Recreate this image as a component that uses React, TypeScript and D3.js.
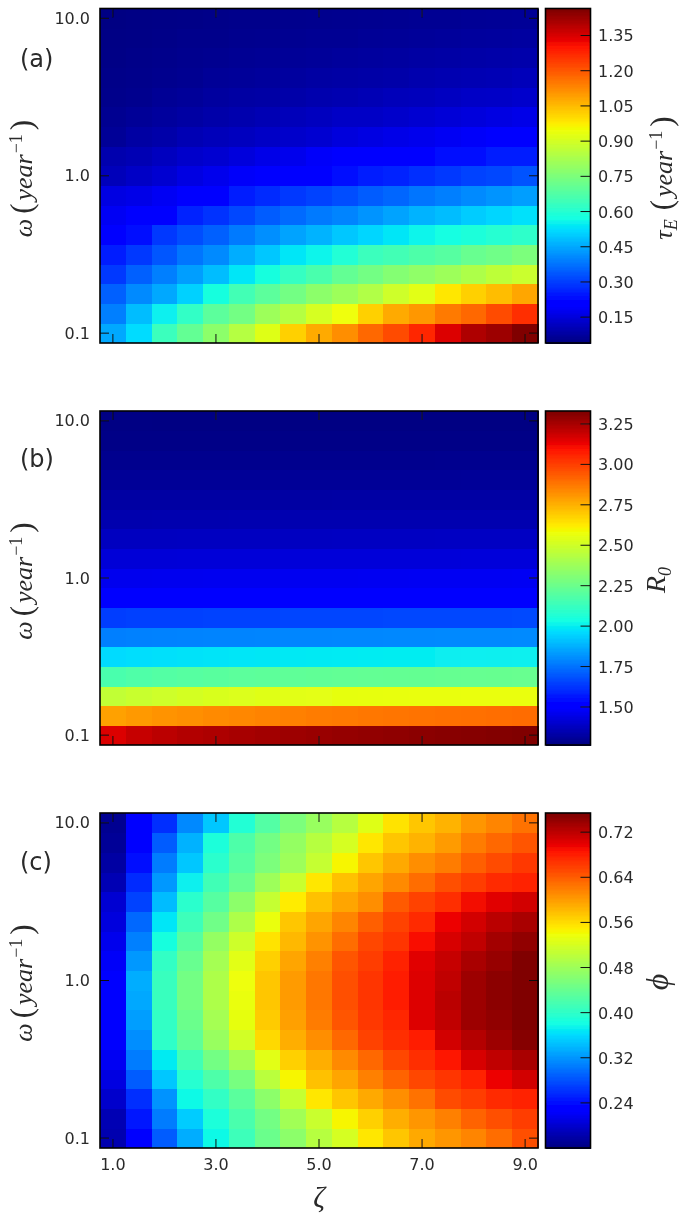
import * as d3 from "d3";

// parameter grid, both axes have 17 cells
const zetaValues = [1, 1.5, 2, 2.5, 3, 3.5, 4, 4.5, 5, 5.5, 6, 6.5, 7, 7.5, 8, 8.5, 9];
const omegaValues = [0.1, 0.133, 0.178, 0.237, 0.316, 0.422, 0.562, 0.75, 1, 1.334, 1.778, 2.371, 3.162, 4.217, 5.623, 7.499, 10];

const zetaTicks = [1, 3, 5, 7, 9];
const omegaTicks = [0.1, 1, 10];

// rows run from omega = 0.1 up to omega = 10
const tauValues = [
	[0.453, 0.525, 0.639, 0.71, 0.781, 0.852, 0.924, 1.023, 1.08, 1.123, 1.18, 1.223, 1.28, 1.351, 1.408, 1.429, 1.465],
	[0.396, 0.482, 0.553, 0.624, 0.696, 0.738, 0.81, 0.852, 0.909, 0.952, 1.023, 1.08, 1.109, 1.152, 1.18, 1.223, 1.266],
	[0.354, 0.411, 0.453, 0.51, 0.582, 0.653, 0.696, 0.738, 0.781, 0.81, 0.845, 0.895, 0.931, 0.988, 1.023, 1.052, 1.087],
	[0.297, 0.354, 0.396, 0.439, 0.482, 0.539, 0.582, 0.631, 0.667, 0.71, 0.738, 0.767, 0.788, 0.81, 0.838, 0.867, 0.888],
	[0.254, 0.297, 0.339, 0.382, 0.411, 0.46, 0.496, 0.539, 0.56, 0.596, 0.639, 0.653, 0.674, 0.688, 0.717, 0.731, 0.753],
	[0.218, 0.24, 0.297, 0.325, 0.354, 0.389, 0.418, 0.446, 0.468, 0.496, 0.517, 0.539, 0.56, 0.574, 0.589, 0.603, 0.617],
	[0.183, 0.211, 0.218, 0.268, 0.289, 0.318, 0.346, 0.368, 0.389, 0.403, 0.425, 0.446, 0.468, 0.482, 0.503, 0.517, 0.532],
	[0.161, 0.168, 0.183, 0.218, 0.225, 0.254, 0.275, 0.297, 0.311, 0.325, 0.346, 0.361, 0.382, 0.396, 0.411, 0.425, 0.439],
	[0.111, 0.126, 0.14, 0.161, 0.175, 0.19, 0.204, 0.218, 0.225, 0.24, 0.254, 0.268, 0.282, 0.297, 0.311, 0.318, 0.332],
	[0.097, 0.104, 0.118, 0.133, 0.14, 0.154, 0.168, 0.175, 0.19, 0.197, 0.211, 0.218, 0.225, 0.232, 0.24, 0.254, 0.261],
	[0.069, 0.083, 0.09, 0.104, 0.111, 0.118, 0.126, 0.133, 0.14, 0.154, 0.161, 0.168, 0.175, 0.183, 0.19, 0.204, 0.211],
	[0.061, 0.069, 0.076, 0.083, 0.09, 0.097, 0.104, 0.111, 0.118, 0.126, 0.126, 0.133, 0.14, 0.147, 0.154, 0.161, 0.168],
	[0.054, 0.057, 0.066, 0.071, 0.078, 0.083, 0.086, 0.091, 0.097, 0.1, 0.106, 0.111, 0.114, 0.12, 0.126, 0.128, 0.134],
	[0.051, 0.054, 0.057, 0.061, 0.069, 0.071, 0.074, 0.078, 0.083, 0.086, 0.088, 0.091, 0.097, 0.1, 0.103, 0.106, 0.111],
	[0.047, 0.051, 0.054, 0.057, 0.06, 0.063, 0.066, 0.069, 0.071, 0.074, 0.077, 0.08, 0.083, 0.086, 0.088, 0.09, 0.093],
	[0.046, 0.047, 0.05, 0.053, 0.054, 0.057, 0.059, 0.061, 0.063, 0.064, 0.067, 0.069, 0.071, 0.073, 0.076, 0.077, 0.08],
	[0.044, 0.046, 0.047, 0.049, 0.051, 0.053, 0.054, 0.056, 0.057, 0.059, 0.06, 0.061, 0.063, 0.064, 0.066, 0.067, 0.069],
];

const r0Values = [
	[3.165, 3.205, 3.225, 3.24, 3.25, 3.26, 3.27, 3.278, 3.285, 3.292, 3.298, 3.304, 3.31, 3.315, 3.32, 3.325, 3.33],
	[2.793, 2.81, 2.822, 2.832, 2.842, 2.85, 2.858, 2.865, 2.872, 2.878, 2.884, 2.888, 2.892, 2.896, 2.9, 2.904, 2.907],
	[2.473, 2.49, 2.505, 2.518, 2.53, 2.54, 2.548, 2.555, 2.56, 2.565, 2.568, 2.57, 2.572, 2.573, 2.574, 2.575, 2.576],
	[2.174, 2.185, 2.195, 2.203, 2.21, 2.216, 2.221, 2.226, 2.23, 2.233, 2.236, 2.238, 2.24, 2.242, 2.243, 2.245, 2.246],
	[1.967, 1.972, 1.977, 1.981, 1.985, 1.988, 1.991, 1.994, 1.996, 1.998, 2.0, 2.002, 2.003, 2.005, 2.006, 2.007, 2.008],
	[1.781, 1.784, 1.786, 1.788, 1.79, 1.791, 1.793, 1.794, 1.795, 1.796, 1.797, 1.798, 1.799, 1.8, 1.8, 1.801, 1.802],
	[1.647, 1.65, 1.652, 1.654, 1.656, 1.657, 1.659, 1.66, 1.661, 1.662, 1.663, 1.664, 1.665, 1.666, 1.666, 1.667, 1.668],
	[1.505, 1.508, 1.51, 1.512, 1.513, 1.514, 1.515, 1.516, 1.517, 1.518, 1.519, 1.52, 1.521, 1.522, 1.523, 1.524, 1.525],
	[1.461, 1.462, 1.463, 1.464, 1.465, 1.466, 1.466, 1.467, 1.468, 1.468, 1.469, 1.469, 1.47, 1.47, 1.471, 1.471, 1.472],
	[1.42, 1.421, 1.421, 1.422, 1.422, 1.423, 1.423, 1.424, 1.424, 1.424, 1.425, 1.425, 1.425, 1.425, 1.426, 1.426, 1.426],
	[1.379, 1.38, 1.38, 1.381, 1.381, 1.381, 1.382, 1.382, 1.382, 1.383, 1.383, 1.383, 1.383, 1.384, 1.384, 1.384, 1.384],
	[1.348, 1.348, 1.349, 1.349, 1.349, 1.35, 1.35, 1.35, 1.35, 1.35, 1.351, 1.351, 1.351, 1.351, 1.351, 1.351, 1.351],
	[1.327, 1.327, 1.327, 1.328, 1.328, 1.328, 1.328, 1.328, 1.328, 1.329, 1.329, 1.329, 1.329, 1.329, 1.329, 1.329, 1.329],
	[1.306, 1.306, 1.306, 1.306, 1.307, 1.307, 1.307, 1.307, 1.307, 1.307, 1.307, 1.307, 1.307, 1.307, 1.308, 1.308, 1.308],
	[1.29, 1.29, 1.29, 1.29, 1.29, 1.29, 1.29, 1.29, 1.29, 1.29, 1.29, 1.29, 1.29, 1.291, 1.291, 1.291, 1.291],
	[1.277, 1.277, 1.277, 1.277, 1.277, 1.277, 1.277, 1.277, 1.277, 1.277, 1.277, 1.277, 1.277, 1.277, 1.277, 1.277, 1.277],
	[1.272, 1.272, 1.271, 1.271, 1.271, 1.271, 1.271, 1.27, 1.27, 1.27, 1.27, 1.27, 1.27, 1.27, 1.27, 1.27, 1.27],
];

const phiValues = [
	[0.184, 0.231, 0.288, 0.335, 0.38, 0.412, 0.445, 0.469, 0.499, 0.522, 0.555, 0.576, 0.594, 0.606, 0.617, 0.632, 0.65],
	[0.187, 0.246, 0.306, 0.353, 0.389, 0.421, 0.451, 0.484, 0.513, 0.546, 0.57, 0.591, 0.606, 0.62, 0.638, 0.65, 0.662],
	[0.199, 0.261, 0.32, 0.38, 0.404, 0.433, 0.469, 0.51, 0.555, 0.576, 0.594, 0.611, 0.629, 0.653, 0.662, 0.674, 0.68],
	[0.21, 0.288, 0.35, 0.395, 0.424, 0.454, 0.502, 0.546, 0.579, 0.597, 0.62, 0.638, 0.656, 0.668, 0.68, 0.698, 0.712],
	[0.219, 0.306, 0.371, 0.415, 0.451, 0.484, 0.531, 0.57, 0.591, 0.614, 0.635, 0.656, 0.671, 0.689, 0.709, 0.721, 0.733],
	[0.225, 0.317, 0.401, 0.436, 0.478, 0.519, 0.564, 0.591, 0.611, 0.635, 0.659, 0.671, 0.683, 0.712, 0.727, 0.739, 0.751],
	[0.228, 0.326, 0.404, 0.445, 0.487, 0.534, 0.573, 0.6, 0.623, 0.647, 0.665, 0.677, 0.706, 0.721, 0.739, 0.745, 0.754],
	[0.231, 0.332, 0.409, 0.451, 0.493, 0.537, 0.576, 0.603, 0.626, 0.65, 0.668, 0.683, 0.706, 0.724, 0.739, 0.748, 0.754],
	[0.228, 0.335, 0.409, 0.451, 0.493, 0.54, 0.576, 0.603, 0.626, 0.65, 0.668, 0.683, 0.706, 0.721, 0.739, 0.748, 0.754],
	[0.222, 0.323, 0.404, 0.442, 0.487, 0.531, 0.57, 0.597, 0.62, 0.647, 0.662, 0.68, 0.704, 0.718, 0.733, 0.742, 0.754],
	[0.216, 0.309, 0.386, 0.43, 0.475, 0.516, 0.558, 0.585, 0.608, 0.632, 0.656, 0.668, 0.692, 0.709, 0.721, 0.736, 0.745],
	[0.208, 0.294, 0.368, 0.412, 0.448, 0.493, 0.537, 0.576, 0.597, 0.617, 0.641, 0.659, 0.674, 0.698, 0.712, 0.724, 0.733],
	[0.202, 0.273, 0.344, 0.398, 0.43, 0.469, 0.51, 0.552, 0.579, 0.597, 0.611, 0.644, 0.659, 0.671, 0.695, 0.704, 0.712],
	[0.187, 0.258, 0.323, 0.374, 0.415, 0.442, 0.481, 0.513, 0.555, 0.579, 0.597, 0.614, 0.632, 0.65, 0.662, 0.674, 0.68],
	[0.178, 0.24, 0.306, 0.35, 0.398, 0.43, 0.457, 0.481, 0.51, 0.546, 0.576, 0.594, 0.611, 0.623, 0.641, 0.653, 0.665],
	[0.172, 0.234, 0.288, 0.338, 0.389, 0.424, 0.451, 0.475, 0.499, 0.522, 0.555, 0.576, 0.588, 0.603, 0.623, 0.635, 0.647],
	[0.169, 0.231, 0.261, 0.314, 0.35, 0.392, 0.427, 0.457, 0.478, 0.499, 0.528, 0.558, 0.576, 0.588, 0.606, 0.617, 0.629],
];

const tauTicks = [0.15, 0.3, 0.45, 0.6, 0.75, 0.9, 1.05, 1.2, 1.35];
const r0Ticks = [1.5, 1.75, 2, 2.25, 2.5, 2.75, 3, 3.25];
const phiTicks = [0.24, 0.32, 0.4, 0.48, 0.56, 0.64, 0.72];

const tauRange = [0.04, 1.465];
const r0Range = [1.265, 3.33];
const phiRange = [0.16, 0.754];

// jet colormap
const jetRed = d3.scaleLinear().domain([0, 0.35, 0.66, 0.89, 1]).range([0, 0, 255, 255, 128]);
const jetGreen = d3.scaleLinear().domain([0, 0.125, 0.375, 0.64, 0.91, 1]).range([0, 0, 255, 255, 0, 0]);
const jetBlue = d3.scaleLinear().domain([0, 0.11, 0.34, 0.65, 1]).range([128, 255, 255, 0, 0]);
const jet = (t: number) => d3.rgb(jetRed(t), jetGreen(t), jetBlue(t)).formatRgb();

const left = 100;
const right = 538;
const barLeft = 545.5;
const barRight = 590.5;
const sans = "'DejaVu Sans', sans-serif";
const serif = "'Liberation Serif', serif";
const textColor = "#2a2a2a";

const xScale = d3.scaleLinear().domain([0.75, 9.25]).range([left, right]);

function YearUnit(props: any) {
	return (
		<>
			<tspan fontStyle="normal" dx={props.gap} fontSize="31">(</tspan>
			<tspan dx="3">year</tspan>
			<tspan dy="-10" dx="1" fontSize="18" fontStyle="normal">−1</tspan>
			<tspan dy="10" dx="4" fontStyle="normal" fontSize="31">)</tspan>
		</>
	);
}

function Panel(props: any) {
	const { top, bottom, values, range, ticks, tickFormat, tag, tagY, showX, barLabel, barLabelX, barLabelY, barLabelSize } = props;
	const yScale = d3
		.scaleLog()
		.domain([0.1 / Math.pow(10, 0.0625), 10 * Math.pow(10, 0.0625)])
		.range([bottom, top]);
	const colorT = d3.scaleLinear().domain(range).range([0, 1]);
	const barScale = d3.scaleLinear().domain(range).range([bottom, top]);
	const cellW = xScale(zetaValues[1]) - xScale(zetaValues[0]);
	const cellH = yScale(omegaValues[0]) - yScale(omegaValues[1]);
	const barSteps = d3.range(0, 256).map((i) => i / 255);
	const barStepH = (bottom - top) / 256;
	const stroke = "#111";

	return (
		<g>
			<g shapeRendering="crispEdges">
				{omegaValues.map((omega, r) =>
					zetaValues.map((zeta, c) => (
						<rect
							key={r + "-" + c}
							x={xScale(zeta) - cellW / 2}
							y={yScale(omega) - cellH / 2}
							width={cellW + 0.5}
							height={cellH + 0.5}
							fill={jet(colorT(values[r][c]))}
						/>
					)),
				)}
				{barSteps.map((t) => (
					<rect
						key={t}
						x={barLeft}
						y={bottom - (t * 255 + 1) * barStepH}
						width={barRight - barLeft}
						height={barStepH + 1}
						fill={jet(t)}
					/>
				))}
			</g>
			{zetaTicks.map((t) => (
				<g key={t}>
					<line x1={xScale(t)} x2={xScale(t)} y1={bottom} y2={bottom - 9} stroke={stroke} strokeWidth={1} />
					<line x1={xScale(t)} x2={xScale(t)} y1={top} y2={top + 9} stroke={stroke} strokeWidth={1} />
					{showX && (
						<text x={xScale(t)} y={bottom + 22} textAnchor="middle" fontFamily={sans} fontSize={16} fill={textColor}>
							{t.toFixed(1)}
						</text>
					)}
				</g>
			))}
			{omegaTicks.map((t) => (
				<g key={t}>
					<line x1={left} x2={left + 9} y1={yScale(t)} y2={yScale(t)} stroke={stroke} strokeWidth={1} />
					<line x1={right} x2={right - 9} y1={yScale(t)} y2={yScale(t)} stroke={stroke} strokeWidth={1} />
					<text x={90} y={yScale(t) + 5.5} textAnchor="end" fontFamily={sans} fontSize={16} fill={textColor}>
						{t.toFixed(1)}
					</text>
				</g>
			))}
			<rect x={left} y={top} width={right - left} height={bottom - top} fill="none" stroke="#000" strokeWidth={1.6} />

			{ticks.map((t: number) => (
				<g key={t}>
					<line x1={barRight} x2={barRight - 10} y1={barScale(t)} y2={barScale(t)} stroke={stroke} strokeWidth={1} />
					<text x={598} y={barScale(t) + 6} fontFamily={sans} fontSize={16} fill={textColor}>
						{tickFormat(t)}
					</text>
				</g>
			))}
			<rect x={barLeft} y={top} width={barRight - barLeft} height={bottom - top} fill="none" stroke="#000" strokeWidth={1.6} />

			<text x={20} y={tagY} fontFamily={sans} fontSize={24} fill={textColor}>
				{tag}
			</text>
			<text
				transform={`translate(32,${top + 170}) rotate(-90)`}
				textAnchor="middle"
				fontFamily={serif}
				fontStyle="italic"
				fontSize={26}
				fill={textColor}
			>
				ω
				<YearUnit gap="5" />
			</text>
			<text
				transform={`translate(${barLabelX},${barLabelY}) rotate(-90)`}
				textAnchor="middle"
				fontFamily={serif}
				fontStyle="italic"
				fontSize={barLabelSize}
				fill={textColor}
			>
				{barLabel}
			</text>
		</g>
	);
}

function App() {
	return (
		<svg width={686} height={1222} style={{ position: "absolute", left: 0, top: 0, background: "#fff" }}>
			<defs>
				<filter id="soft" x="0" y="0" width="100%" height="100%">
					<feGaussianBlur stdDeviation="0.5" />
				</filter>
			</defs>
			<g filter="url(#soft)">
				<rect width={686} height={1222} fill="#fff" />
				<Panel
					top={8.5}
					bottom={343}
					values={tauValues}
					range={tauRange}
					ticks={tauTicks}
					tickFormat={(t: number) => t.toFixed(2)}
					tag="(a)"
					tagY={67}
					barLabelX={672}
					barLabelY={178}
					barLabelSize={26}
					barLabel={
						<>
							τ<tspan fontSize="18" dy="5">E</tspan>
							<tspan dy="-5">
								<YearUnit gap="9" />
							</tspan>
						</>
					}
				/>
				<Panel
					top={411}
					bottom={745}
					values={r0Values}
					range={r0Range}
					ticks={r0Ticks}
					tickFormat={(t: number) => t.toFixed(2)}
					tag="(b)"
					tagY={467}
					barLabelX={665}
					barLabelY={580}
					barLabelSize={28}
					barLabel={
						<>
							R<tspan fontSize="18" dy="6">0</tspan>
						</>
					}
				/>
				<Panel
					top={813}
					bottom={1148}
					values={phiValues}
					range={phiRange}
					ticks={phiTicks}
					tickFormat={(t: number) => t.toFixed(2)}
					tag="(c)"
					tagY={870}
					showX
					barLabelX={668}
					barLabelY={982}
					barLabelSize={32}
					barLabel="ϕ"
				/>
				<text x={319} y={1207} textAnchor="middle" fontFamily={serif} fontStyle="italic" fontSize={29} fill={textColor}>
					ζ
				</text>
			</g>
		</svg>
	);
}

export default App;
